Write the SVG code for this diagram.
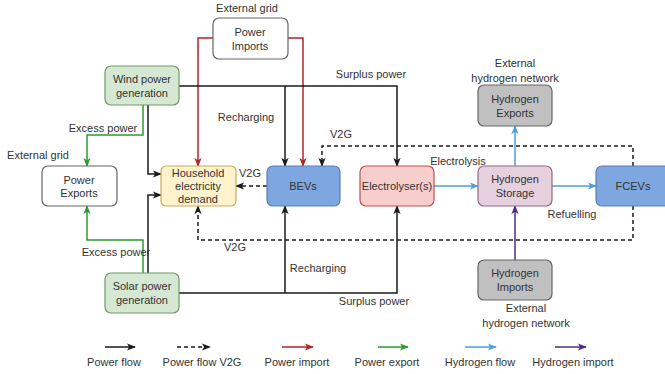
<svg xmlns="http://www.w3.org/2000/svg" width="665" height="374" viewBox="0 0 665 374">
<defs>
<style>
text{font-family:"Liberation Sans",Arial,sans-serif;font-size:11px;fill:#333;text-anchor:middle;dominant-baseline:central}
.n rect{stroke-width:1.2}
.c path{fill:none;stroke-width:1.5}
.k{stroke:#1a1a1a}
.r{stroke:#b3262a}
.g{stroke:#2e9a2e}
.b{stroke:#4b9fdc}
.p{stroke:#4c2a85}
.d{stroke:#1a1a1a;stroke-dasharray:4 3}
</style>
<marker id="ak" viewBox="0 0 10 8" refX="9" refY="4" markerWidth="9" markerHeight="8" markerUnits="userSpaceOnUse" orient="auto"><path d="M0,0 L10,4 L0,8 L2.5,4 z" fill="#1a1a1a"/></marker>
<marker id="ar" viewBox="0 0 10 8" refX="9" refY="4" markerWidth="9" markerHeight="8" markerUnits="userSpaceOnUse" orient="auto"><path d="M0,0 L10,4 L0,8 L2.5,4 z" fill="#b3262a"/></marker>
<marker id="ag" viewBox="0 0 10 8" refX="9" refY="4" markerWidth="9" markerHeight="8" markerUnits="userSpaceOnUse" orient="auto"><path d="M0,0 L10,4 L0,8 L2.5,4 z" fill="#2e9a2e"/></marker>
<marker id="ab" viewBox="0 0 10 8" refX="9" refY="4" markerWidth="9" markerHeight="8" markerUnits="userSpaceOnUse" orient="auto"><path d="M0,0 L10,4 L0,8 L2.5,4 z" fill="#4b9fdc"/></marker>
<marker id="ap" viewBox="0 0 10 8" refX="9" refY="4" markerWidth="9" markerHeight="8" markerUnits="userSpaceOnUse" orient="auto"><path d="M0,0 L10,4 L0,8 L2.5,4 z" fill="#4c2a85"/></marker>
</defs>
<rect width="665" height="374" fill="#fff"/>

<g id="connectors" class="c">
<path class="r" d="M213,38 H198 V166" marker-end="url(#ar)"/>
<path class="r" d="M288,38 H303 V166" marker-end="url(#ar)"/>
<path class="k" d="M179,86 H397 V166" marker-end="url(#ak)"/>
<path class="k" d="M285,86 V166" marker-end="url(#ak)"/>
<path class="k" d="M148,105 V174 H161" marker-end="url(#ak)"/>
<path class="g" d="M143,105 V135 H87 V166" marker-end="url(#ag)"/>
<path class="k" d="M179,293 H397 V206" marker-end="url(#ak)"/>
<path class="k" d="M285,293 V206" marker-end="url(#ak)"/>
<path class="k" d="M148,273 V195 H161" marker-end="url(#ak)"/>
<path class="g" d="M143,273 V240 H87 V206" marker-end="url(#ag)"/>
<path class="d" d="M267,186 H236" marker-end="url(#ak)"/>
<path class="d" d="M633,166 V146 H322 V166" marker-end="url(#ak)"/>
<path class="d" d="M633,206 V240 H198 V206" marker-end="url(#ak)"/>
<path class="b" d="M434,186 H478" marker-end="url(#ab)"/>
<path class="b" d="M552,186 H596" marker-end="url(#ab)"/>
<path class="b" d="M515,166 V126" marker-end="url(#ab)"/>
<path class="p" d="M515,260 V206" marker-end="url(#ap)"/>
</g>

<g id="power-imports" class="n"><rect x="213" y="18" width="75" height="41" rx="6" fill="#fff" stroke="#666"/><text x="250" y="32">Power</text><text x="250" y="46">Imports</text></g>
<g id="wind" class="n"><rect x="105" y="66" width="74" height="39" rx="6" fill="#d5e8d4" stroke="#6f9a5e"/><text x="142" y="79">Wind power</text><text x="142" y="93">generation</text></g>
<g id="power-exports" class="n"><rect x="42" y="166" width="75" height="40" rx="6" fill="#fff" stroke="#666"/><text x="79" y="180">Power</text><text x="79" y="193">Exports</text></g>
<g id="household" class="n"><rect x="161" y="166" width="75" height="40" rx="5" fill="#fff2cc" stroke="#c9ac5a"/><text x="198" y="173">Household</text><text x="198" y="186">electricity</text><text x="198" y="199">demand</text></g>
<g id="bevs" class="n"><rect x="267" y="166" width="73" height="40" rx="6" fill="#7ea6e0" stroke="#5b7fb5"/><text x="303" y="186">BEVs</text></g>
<g id="electrolyser" class="n"><rect x="360" y="166" width="74" height="40" rx="6" fill="#f8cecc" stroke="#b85450"/><text x="397" y="186">Electrolyser(s)</text></g>
<g id="hydrogen-storage" class="n"><rect x="478" y="166" width="74" height="40" rx="6" fill="#e6d0de" stroke="#8f6a86"/><text x="515" y="179">Hydrogen</text><text x="515" y="193">Storage</text></g>
<g id="hydrogen-exports" class="n"><rect x="478" y="85" width="74" height="41" rx="6" fill="#c0c0c0" stroke="#666"/><text x="515" y="99">Hydrogen</text><text x="515" y="113">Exports</text></g>
<g id="fcevs" class="n"><rect x="596" y="166" width="74" height="40" rx="6" fill="#7ea6e0" stroke="#5b7fb5"/><text x="633" y="186">FCEVs</text></g>
<g id="solar" class="n"><rect x="105" y="273" width="74" height="40" rx="6" fill="#d5e8d4" stroke="#6f9a5e"/><text x="142" y="286">Solar power</text><text x="142" y="300">generation</text></g>
<g id="hydrogen-imports" class="n"><rect x="478" y="260" width="74" height="40" rx="6" fill="#c0c0c0" stroke="#666"/><text x="515" y="273">Hydrogen</text><text x="515" y="287">Imports</text></g>

<g id="labels">
<text x="247" y="8">External grid</text>
<text x="38" y="155">External grid</text>
<text x="103" y="128">Excess power</text>
<text x="246" y="117">Recharging</text>
<text x="371" y="74">Surplus power</text>
<text x="341" y="134">V2G</text>
<text x="250" y="173">V2G</text>
<text x="458" y="161">Electrolysis</text>
<text x="515" y="63">External</text>
<text x="515" y="78">hydrogen network</text>
<text x="572" y="214">Refuelling</text>
<text x="235" y="247">V2G</text>
<text x="116" y="252">Excess power</text>
<text x="318" y="268">Recharging</text>
<text x="374" y="301">Surplus power</text>
<text x="526" y="308">External</text>
<text x="526" y="323">hydrogen network</text>
</g>

<g id="legend" class="c">
<path class="k" d="M105,347 H135" marker-end="url(#ak)"/>
<path class="d" d="M177,347 H210" marker-end="url(#ak)"/>
<path class="r" d="M282,347 H313" marker-end="url(#ar)"/>
<path class="g" d="M378,347 H408" marker-end="url(#ag)"/>
<path class="b" d="M465,347 H496" marker-end="url(#ab)"/>
<path class="p" d="M555,347 H586" marker-end="url(#ap)"/>
<text x="114" y="362">Power flow</text>
<text x="202" y="362">Power flow V2G</text>
<text x="297" y="362">Power import</text>
<text x="387" y="362">Power export</text>
<text x="480" y="362">Hydrogen flow</text>
<text x="573" y="362">Hydrogen import</text>
</g>
</svg>
